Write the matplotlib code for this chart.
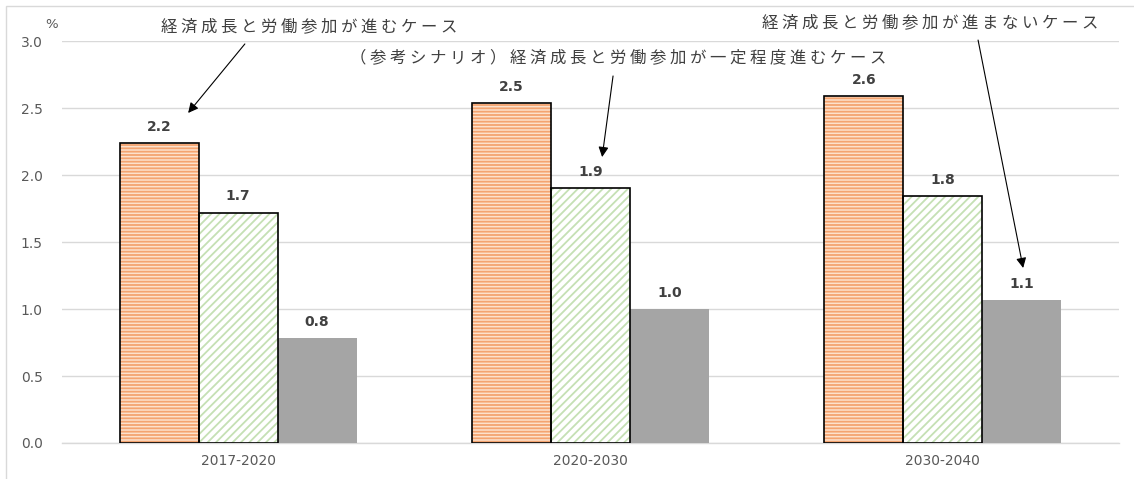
import matplotlib
matplotlib.use("Agg")
import matplotlib.pyplot as plt
import numpy as np
from matplotlib.patches import Rectangle

plt.rcParams["font.family"] = ["Noto Sans CJK JP", "DejaVu Sans"]
plt.rcParams["hatch.linewidth"] = 1.3

# ---------- data ----------
periods = ["2017-2020", "2020-2030", "2030-2040"]
case_high = [2.24, 2.54, 2.59]      # 経済成長と労働参加が進むケース
case_mid = [1.72, 1.90, 1.84]       # 一定程度進むケース
case_low = [0.78, 1.00, 1.07]       # 進まないケース
yticks = [0.0, 0.5, 1.0, 1.5, 2.0, 2.5, 3.0]

label_high = "経済成長と労働参加が進むケース"
label_mid = "（参考シナリオ）経済成長と労働参加が一定程度進むケース"
label_low = "経済成長と労働参加が進まないケース"


def spaced(s):
    return " ".join(s)


fig = plt.figure(figsize=(11.34, 4.79), dpi=100)
ax = fig.add_axes([62 / 1134, 1 - 443 / 479, 1057 / 1134, 402 / 479])

# outer frame (light gray)
fig.patches.append(Rectangle((6 / 1134, -0.01), 1.02, 1 - 6 / 479 + 0.01,
                             transform=fig.transFigure, fill=False,
                             edgecolor="#d9d9d9", linewidth=1.0))

x = np.arange(len(periods))
w = 0.224
txt_col = "#404040"

# orange, horizontal stripes
ax.bar(x - w, case_high, w, color="#fde1cc", edgecolor="#f4a470",
       hatch="-----", linewidth=0, zorder=2)
ax.bar(x - w, case_high, w, fill=False, edgecolor="black", linewidth=1.2, zorder=3)
# green, diagonal stripes
ax.bar(x, case_mid, w, color="white", edgecolor="#c5e0b4",
       hatch="////", linewidth=0, zorder=2)
ax.bar(x, case_mid, w, fill=False, edgecolor="black", linewidth=1.2, zorder=3)
# gray solid
ax.bar(x + w, case_low, w, color="#a5a5a5", linewidth=0, zorder=2)

for off, vals in [(-w, case_high), (0, case_mid), (w, case_low)]:
    for xi, v in zip(x, vals):
        ax.annotate(f"{v:.1f}", xy=(xi + off, v), xytext=(0, 6.5),
                    textcoords="offset points", ha="center", va="bottom",
                    fontsize=10, fontweight="bold", color=txt_col,
                    family="DejaVu Sans")

ax.set_xlim(-0.5, 2.5)
ax.set_ylim(0, 3.0)
ax.set_yticks(yticks)
ax.set_yticklabels([f"{t:.1f}" for t in yticks])
ax.set_xticks(x)
ax.set_xticklabels(periods)
ax.tick_params(axis="both", length=0, labelsize=10, labelcolor="#595959")
ax.tick_params(axis="y", pad=14)
ax.tick_params(axis="x", pad=8)
for lab in ax.get_xticklabels() + ax.get_yticklabels():
    lab.set_family("DejaVu Sans")
ax.grid(axis="y", color="#d9d9d9", linewidth=1.0, zorder=0)
ax.axhline(0, color="#d9d9d9", linewidth=1.0, zorder=1, clip_on=False)
ax.set_axisbelow(True)
for sp in ax.spines.values():
    sp.set_visible(False)

ax.text(-0.5 - 4 / 352.3, 3.0 + 17 / 134, "%", ha="right", va="center",
        fontsize=9.5, color="#595959", family="DejaVu Sans")

# ---------- callouts ----------
arrow = dict(arrowstyle="-|>,head_length=0.5,head_width=0.25", color="black",
             lw=0.8, mutation_scale=12, shrinkA=0, shrinkB=0)
ax.annotate("", xy=(-0.142, 2.463), xytext=(0.019, 2.978), arrowprops=arrow,
            annotation_clip=False)
ax.annotate("", xy=(1.033, 2.134), xytext=(1.064, 2.739), arrowprops=arrow,
            annotation_clip=False)
ax.annotate("", xy=(2.228, 1.306), xytext=(2.100, 3.007), arrowprops=arrow,
            annotation_clip=False)

ax.text(-0.218, 3.104, spaced(label_high), ha="left", va="center",
        fontsize=11.8, color=txt_col, clip_on=False)
ax.text(0.318, 2.873, spaced(label_mid), ha="left", va="center",
        fontsize=11.8, color=txt_col, clip_on=False)
ax.text(1.487, 3.134, spaced(label_low), ha="left", va="center",
        fontsize=11.8, color=txt_col, clip_on=False)

fig.savefig("out.png", dpi=100)
